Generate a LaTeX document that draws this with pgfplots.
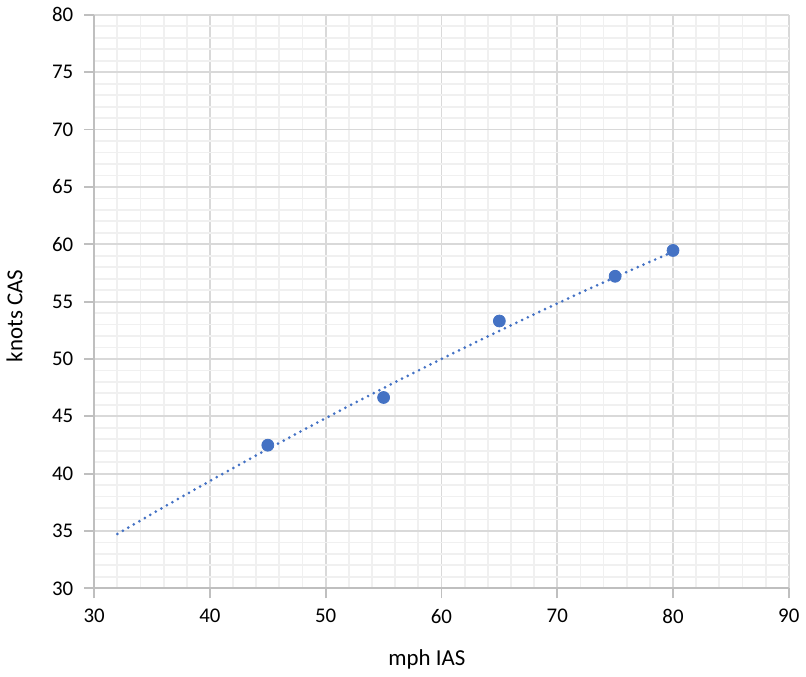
\documentclass[border=0pt]{standalone}
\usepackage{fontspec}
\setmainfont{Carlito}
\usepackage{pgfplots}
\pgfplotsset{compat=1.18}
\usetikzlibrary{calc}
\definecolor{ptblue}{HTML}{4472C4}
\definecolor{majgrid}{HTML}{D9D9D9}
\definecolor{mingrid}{HTML}{F0F0F0}
\definecolor{axgray}{HTML}{BFBFBF}
\begin{document}
\begin{tikzpicture}
\begin{axis}[
  name=ax,
  scale only axis,
  width=349.5pt, height=288.5pt,
  xmin=30, xmax=90, ymin=30, ymax=80,
  xtick={30,40,...,90}, ytick={30,35,...,80},
  minor x tick num=4, minor y tick num=4,
  grid=both,
  major grid style={majgrid, line width=0.9pt},
  minor grid style={mingrid, line width=0.9pt},
  axis x line*=bottom, axis y line*=left,
  axis line style={axgray, line width=0.9pt},
  x axis line style={-}, y axis line style={-},
  tick align=outside,
  major tick length=5pt, minor tick length=0pt,
  tick style={axgray, line width=0.9pt},
  tick label style={font=\fontsize{10.5}{12}\selectfont, black},
  /pgf/number format/assume math mode=true,
  xticklabel style={yshift=-2pt},
  yticklabel style={xshift=-2pt},
  xlabel={mph IAS}, ylabel={knots CAS},
  label style={font=\fontsize{11.5}{13}\selectfont},
  xlabel style={at={(axis description cs:0.479,0)}, anchor=center, yshift=-36pt},
  every axis y label/.append style={at={(axis description cs:0,0.475)}, anchor=center, yshift=40pt},
  clip=false,
]
\addplot[ptblue, line width=1.5pt, line cap=round, dash pattern=on 0pt off 3.2pt] coordinates {
  (32,34.74) (36,37.08) (40,39.36) (44,41.59) (48,43.77) (52,45.90) (56,47.98)
  (60,50.00) (64,51.97) (68,53.90) (72,55.77) (76,57.58) (80,59.35)
};
\addplot[only marks, mark=*, mark size=3pt, ptblue, mark options={fill=ptblue, draw=ptblue}] coordinates {
  (45,42.48) (55,46.64) (65,53.31) (75,57.21) (80,59.46)
};
\end{axis}
\path[use as bounding box] ($(ax.south west)+(-46.5pt,-43pt)$) rectangle ($(ax.north east)+(7pt,7.5pt)$);
\end{tikzpicture}
\end{document}
